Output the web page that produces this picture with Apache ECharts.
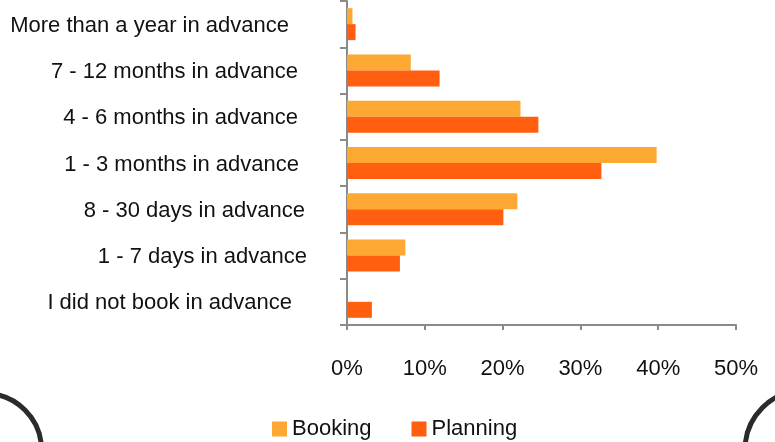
<!DOCTYPE html>
<html>
<head>
<meta charset="utf-8">
<script src="https://cdn.jsdelivr.net/npm/echarts@6/dist/echarts.min.js"></script>
<style>html,body{margin:0;padding:0;background:#fff;}#c{width:775px;height:442px;}</style>
</head>
<body>
<div id="c"></div>
<script>
// Categories listed top to bottom
var categories = [
  "More than a year in advance",
  "7 - 12 months in advance",
  "4 - 6 months in advance",
  "1 - 3 months in advance",
  "8 - 30 days in advance",
  "1 - 7 days in advance",
  "I did not book in advance"
];
var bookingValues = [0.7, 8.2, 22.3, 39.8, 21.9, 7.5, null];
var planningValues = [1.1, 11.9, 24.6, 32.7, 20.1, 6.8, 3.2];
var xTicks = [0, 10, 20, 30, 40, 50];
var seriesNames = ["Booking", "Planning"];

var labelFont = "'Liberation Sans', Arial, sans-serif";
var padRight = [19, 10, 10, 9, 3, 1, 16];
var rich = {};
categories.forEach(function (c, i) {
  rich['r' + i] = { fontFamily: labelFont, fontSize: 22, color: '#111', padding: [3, padRight[i], 0, 0] };
});

var chart = echarts.init(document.getElementById('c'), null, { renderer: 'canvas' });
chart.setOption({
  animation: false,
  backgroundColor: '#ffffff',
  grid: { left: 347, right: 39, top: 1, bottom: 117, containLabel: false, outerBoundsMode: 'none' },
  legend: {
    data: seriesNames,
    left: 272, top: 418, padding: 0,
    icon: 'rect', itemWidth: 15, itemHeight: 15, itemGap: 40,
    textStyle: { fontFamily: labelFont, fontSize: 22, color: '#111', padding: [0, 0, 0, 0] }
  },
  xAxis: {
    type: 'value', min: xTicks[0], max: xTicks[xTicks.length - 1], interval: 10,
    axisLine: { show: true, lineStyle: { color: '#8a8a8a', width: 2 } },
    axisTick: { show: true, length: 5, lineStyle: { color: '#8a8a8a', width: 2 } },
    splitLine: { show: false },
    axisLabel: { margin: 33, formatter: '{value}%', fontFamily: labelFont, fontSize: 22, color: '#111' }
  },
  yAxis: {
    type: 'category', data: categories, inverse: true,
    axisLine: { show: true, lineStyle: { color: '#8a8a8a', width: 2 } },
    axisTick: { show: true, length: 7, lineStyle: { color: '#8a8a8a', width: 2 } },
    axisLabel: {
      margin: 39,
      formatter: function (v) { var i = categories.indexOf(v); return '{r' + i + '|' + v + '}'; },
      rich: rich
    }
  },
  series: [
    { name: seriesNames[0], type: 'bar', data: bookingValues, barGap: '0%', barCategoryGap: '31%', itemStyle: { color: '#FDA832' } },
    { name: seriesNames[1], type: 'bar', data: planningValues, barGap: '0%', barCategoryGap: '31%', itemStyle: { color: '#FF5F0F' } }
  ],
  graphic: [
    { type: 'circle', shape: { cx: -15, cy: 450, r: 56.5 }, style: { fill: 'none', stroke: '#2b2b2b', lineWidth: 5 }, silent: true },
    { type: 'circle', shape: { cx: 805, cy: 450, r: 60 }, style: { fill: 'none', stroke: '#2b2b2b', lineWidth: 5 }, silent: true }
  ]
});
</script>
</body>
</html>
